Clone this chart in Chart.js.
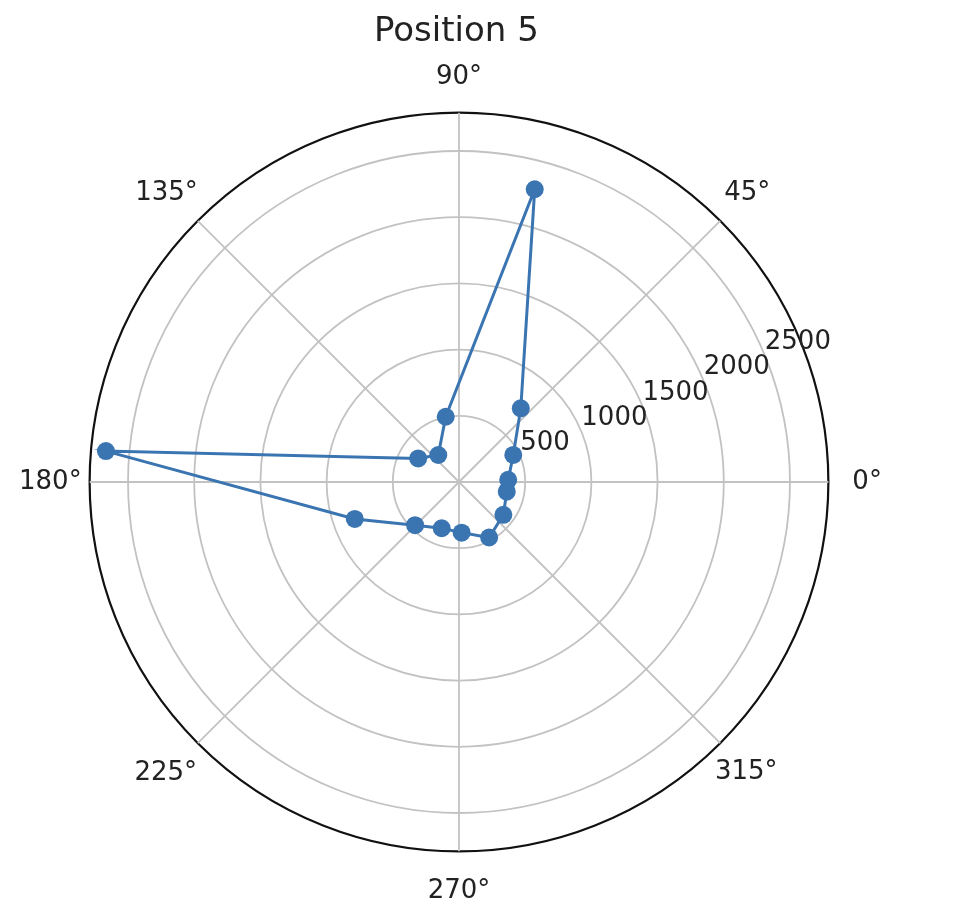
<!DOCTYPE html>
<html>
<head>
<meta charset="utf-8">
<script src="https://cdn.jsdelivr.net/npm/chart.js@4/dist/chart.umd.min.js"></script>
<style>
  html, body { margin: 0; padding: 0; background: #fff; overflow: hidden; }
</style>
</head>
<body>
<canvas id="polarChart" width="965" height="924"></canvas>
<script>
// Polar line plot for "Position 5" (angles in degrees, counter-clockwise from 0° at right)
const angles = [2.5, 26.5, 50, 75.5, 101.5, 127.5, 150, 175, 199.5, 224.5, 249.5, 273, 298.5, 323.5, 348.5];
const values = [372, 458, 726, 2284, 503, 257, 356, 2677, 835, 465, 373, 383, 477, 417, 368];
const rTicks = [500, 1000, 1500, 2000, 2500];
const rMax = 2790;
const thetaTicks = [0, 45, 90, 135, 180, 225, 270, 315];
const rLabelAngle = 22.5;

const lineColor = "#3a75b2";
const gridColor = "#c2c2c2";
const textColor = "#222222";
const fontFamily = "'DejaVu Sans', sans-serif";

// Radar scale: one label per half degree, index 0 at the top, going clockwise
const step = 0.5;
const labelCount = 360 / step;
const mod360 = (v) => ((v % 360) + 360) % 360;
const thetaForIndex = (i) => mod360(90 - i * step);
const indexForTheta = (t) => mod360(90 - t) / step;

const labels = [];
for (let i = 0; i < labelCount; i++) {
  labels.push(thetaForIndex(i) + "°");
}
const radarData = new Array(labelCount).fill(null);
angles.forEach((a, k) => {
  radarData[indexForTheta(a)] = values[k];
});

// label offset and line height per direction, to sit like the reference
const labelPadding = { 0: 24, 45: 5.8, 90: 20, 135: 0, 180: 8, 225: 1, 270: 24, 315: -7.4 };
const labelLineHeight = { 0: 1.2, 45: 1.77, 90: 1.2, 135: 2.1, 180: 1.2, 225: 2.25, 270: 1.2, 315: 2.64 };

const rLabelPlugin = {
  id: "rLabels",
  afterDatasetsDraw(chart) {
    const scale = chart.scales.r;
    const ctx = chart.ctx;
    ctx.save();
    ctx.font = "26px " + fontFamily;
    ctx.fillStyle = textColor;
    ctx.textAlign = "left";
    ctx.textBaseline = "bottom";
    rTicks.forEach((v) => {
      const p = scale.getPointPosition(
        indexForTheta(rLabelAngle),
        scale.getDistanceFromCenterForValue(v)
      );
      ctx.fillText(String(v), p.x, p.y);
    });
    ctx.restore();
  },
};

new Chart(document.getElementById("polarChart").getContext("2d"), {
  type: "radar",
  data: {
    labels: labels,
    datasets: [
      {
        data: radarData,
        spanGaps: true,
        borderColor: lineColor,
        borderWidth: 3,
        backgroundColor: "rgba(0,0,0,0)",
        fill: false,
        tension: 0,
        pointRadius: 9,
        pointBackgroundColor: lineColor,
        pointBorderWidth: 0,
        pointHoverRadius: 9,
      },
    ],
  },
  options: {
    responsive: false,
    animation: false,
    events: [],
    layout: {
      padding: { left: 11, right: 74, top: 0, bottom: 0 },
    },
    scales: {
      r: {
        min: 0,
        max: rMax,
        startAngle: 0,
        afterBuildTicks: (scale) => {
          scale.ticks = [0, ...rTicks, rMax].map((v) => ({ value: v }));
        },
        ticks: { display: false },
        grid: {
          circular: true,
          color: (ctx) => (ctx.tick && ctx.tick.value === rMax ? "#111111" : gridColor),
          lineWidth: (ctx) => (ctx.tick && ctx.tick.value === rMax ? 2.2 : 1.8),
        },
        angleLines: {
          color: gridColor,
          lineWidth: (ctx) => (thetaTicks.includes(thetaForIndex(ctx.index)) ? 1.8 : 0),
        },
        pointLabels: {
          callback: (label, index) =>
            thetaTicks.includes(thetaForIndex(index)) ? label : "",
          padding: (ctx) => {
            const t = thetaForIndex(ctx.index);
            return labelPadding[t] !== undefined ? labelPadding[t] : 0;
          },
          color: textColor,
          font: (ctx) => {
            const t = thetaForIndex(ctx.index);
            return {
              family: fontFamily,
              size: 26,
              lineHeight: labelLineHeight[t] !== undefined ? labelLineHeight[t] : 1.2,
            };
          },
        },
      },
    },
    plugins: {
      legend: { display: false },
      tooltip: { enabled: false },
      title: {
        display: true,
        text: " Position 5",
        color: textColor,
        font: { family: fontFamily, size: 34, weight: "normal", lineHeight: 0.6 },
        padding: { top: 22, bottom: 2 },
      },
    },
  },
  plugins: [rLabelPlugin],
});
</script>
</body>
</html>
